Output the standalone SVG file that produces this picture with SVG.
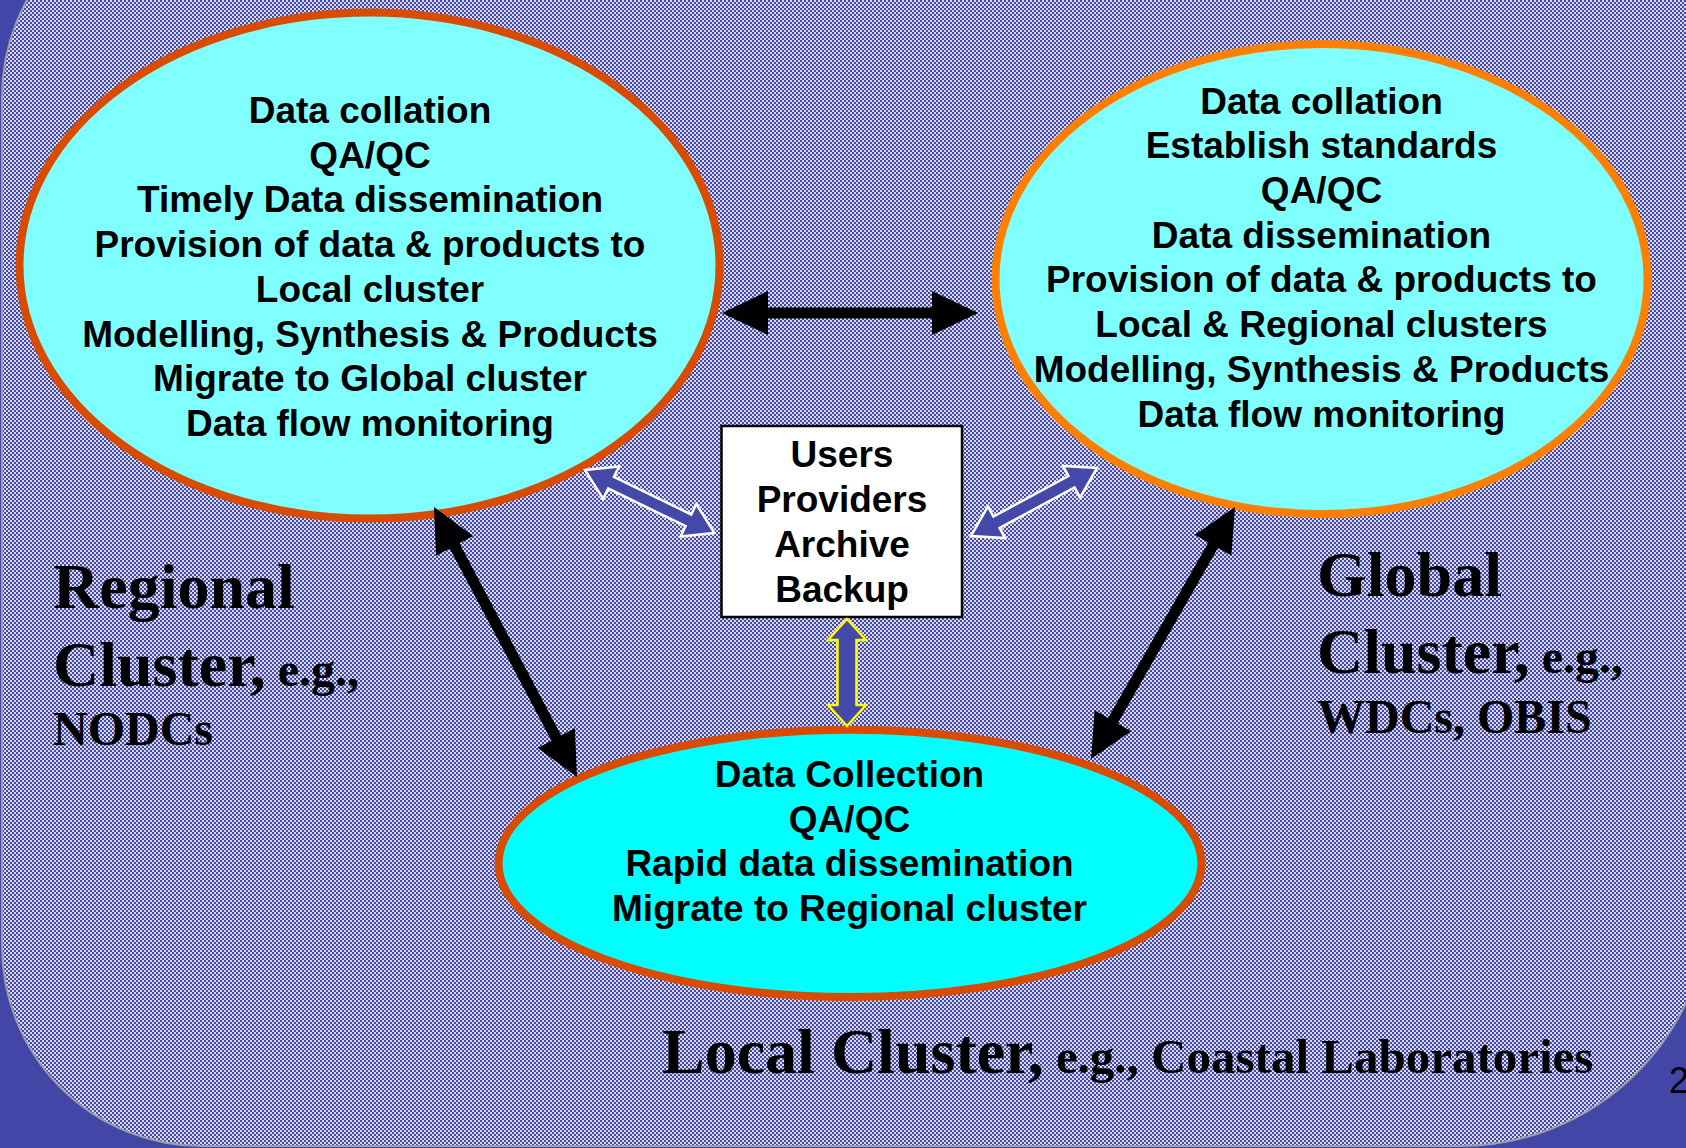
<svg xmlns="http://www.w3.org/2000/svg" width="1686" height="1148" viewBox="0 0 1686 1148">
  <defs>
    <pattern id="chk" width="4" height="4" patternUnits="userSpaceOnUse">
      <rect width="4" height="4" fill="#d8d8e6"/>
      <rect width="2" height="2" fill="#4448a8"/>
      <rect x="2" y="2" width="2" height="2" fill="#4448a8"/>
    </pattern>
    <polygon id="blackArrowH" points="0,0 46,-22 46,-5.5 210,-5.5 210,-22 256,0 210,22 210,5.5 46,5.5 46,22"/>
  </defs>
  <style>
    .ell-text { font-family: "Liberation Sans", Arial, sans-serif; font-weight: bold; font-size: 37px; fill: #000; text-anchor: middle; }
    .box-text { font-family: "Liberation Sans", Arial, sans-serif; font-weight: bold; font-size: 37px; fill: #000; text-anchor: middle; }
    .big { font-family: "Liberation Serif", "Times New Roman", serif; font-weight: bold; font-size: 64px; fill: #000; }
    .small { font-family: "Liberation Serif", "Times New Roman", serif; font-weight: bold; font-size: 48px; fill: #000; }
    .black-arrow { fill: #000; stroke: none; }
    .blue-arrow { fill: #4448a8; stroke: #ffffff; stroke-width: 2.5; stroke-linejoin: miter; }
    .yellow-arrow { fill: #4448a8; stroke: #ffff00; stroke-width: 2.5; stroke-linejoin: miter; }
  </style>

  <g id="background">
    <rect x="0" y="0" width="1686" height="1148" fill="#4247a7"/>
    <path d="M 202,-103 H 1710 V 896 A 250 250 0 0 1 1460 1146 H 202 A 200 200 0 0 1 2 946 V 97 A 200 200 0 0 1 202 -103 Z" fill="url(#chk)" stroke="#9c9cab" stroke-width="2"/>
  </g>

  <g id="node-regional">
    <ellipse cx="369.5" cy="265.6" rx="350" ry="253" fill="#80ffff" stroke="#d94c00" stroke-width="8"/>
    <text class="ell-text" x="370" y="123">Data collation</text>
    <text class="ell-text" x="370" y="167.7">QA/QC</text>
    <text class="ell-text" x="370" y="212.4">Timely Data dissemination</text>
    <text class="ell-text" x="370" y="257">Provision of data &amp; products to</text>
    <text class="ell-text" x="370" y="301.8">Local cluster</text>
    <text class="ell-text" x="370" y="346.5">Modelling, Synthesis &amp; Products</text>
    <text class="ell-text" x="370" y="391">Migrate to Global cluster</text>
    <text class="ell-text" x="370" y="436">Data flow monitoring</text>
  </g>

  <g id="node-global">
    <ellipse cx="1321.5" cy="279" rx="326" ry="235" fill="#80ffff" stroke="#ff8000" stroke-width="8"/>
    <text class="ell-text" x="1321.5" y="113.6">Data collation</text>
    <text class="ell-text" x="1321.5" y="158.3">Establish standards</text>
    <text class="ell-text" x="1321.5" y="203">QA/QC</text>
    <text class="ell-text" x="1321.5" y="247.7">Data dissemination</text>
    <text class="ell-text" x="1321.5" y="292.4">Provision of data &amp; products to</text>
    <text class="ell-text" x="1321.5" y="337">Local &amp; Regional clusters</text>
    <text class="ell-text" x="1321.5" y="381.8">Modelling, Synthesis &amp; Products</text>
    <text class="ell-text" x="1321.5" y="426.5">Data flow monitoring</text>
  </g>

  <g id="node-local">
    <ellipse cx="850" cy="863.4" rx="351.4" ry="133.6" fill="#00ffff" stroke="#d94c00" stroke-width="8"/>
    <text class="ell-text" x="849.5" y="786.8">Data Collection</text>
    <text class="ell-text" x="849.5" y="831.5">QA/QC</text>
    <text class="ell-text" x="849.5" y="876.2">Rapid data dissemination</text>
    <text class="ell-text" x="849.5" y="921">Migrate to Regional cluster</text>
  </g>

  <g id="node-users">
    <rect x="721.5" y="426" width="240.5" height="191" fill="#ffffff" stroke="#000000" stroke-width="2.5"/>
    <text class="box-text" x="842" y="467">Users</text>
    <text class="box-text" x="842" y="512">Providers</text>
    <text class="box-text" x="842" y="557">Archive</text>
    <text class="box-text" x="842" y="602">Backup</text>
  </g>

  <g id="connectors">
    <use href="#blackArrowH" class="black-arrow" transform="translate(722,313)"/>
    <polygon class="black-arrow" transform="translate(434,507) rotate(62.1)" points="0,0 44,-21 44,-5.5 261.5,-5.5 261.5,-21 305.5,0 261.5,21 261.5,5.5 44,5.5 44,21"/>
    <polygon class="black-arrow" transform="translate(1235,507) rotate(119.74)" points="0,0 44,-21 44,-5.5 246.2,-5.5 246.2,-21 290.2,0 246.2,21 246.2,5.5 44,5.5 44,21"/>
    <polygon class="blue-arrow" transform="translate(585,470) rotate(25.94)" points="0,0 29,-18 29,-6.5 115,-6.5 115,-18 144,0 115,18 115,6.5 29,6.5 29,18"/>
    <polygon class="blue-arrow" transform="translate(971,536) rotate(-28.36)" points="0,0 29,-18 29,-6.5 114.2,-6.5 114.2,-18 143.2,0 114.2,18 114.2,6.5 29,6.5 29,18"/>
    <polygon class="yellow-arrow" transform="translate(847,619) rotate(90)" points="0,0 21,-19 21,-9.5 86,-9.5 86,-19 107,0 86,19 86,9.5 21,9.5 21,19"/>
  </g>

  <g id="label-regional">
    <text class="big" x="53" y="608">Regional</text>
    <text class="big" x="53" y="686">Cluster,<tspan class="small"> e.g.,</tspan></text>
    <text class="small" x="53" y="745">NODCs</text>
  </g>

  <g id="label-global">
    <text class="big" x="1317" y="596">Global</text>
    <text class="big" x="1317" y="673">Cluster,<tspan class="small"> e.g.,</tspan></text>
    <text class="small" x="1317" y="733">WDCs, OBIS</text>
  </g>

  <g id="label-local">
    <text class="big" x="662" y="1073">Local Cluster,<tspan class="small" style="font-size:49px"> e.g., Coastal Laboratories</tspan></text>
  </g>

  <text x="1669" y="1093" font-family="Liberation Sans, Arial, sans-serif" font-size="36" fill="#000">2</text>
</svg>
